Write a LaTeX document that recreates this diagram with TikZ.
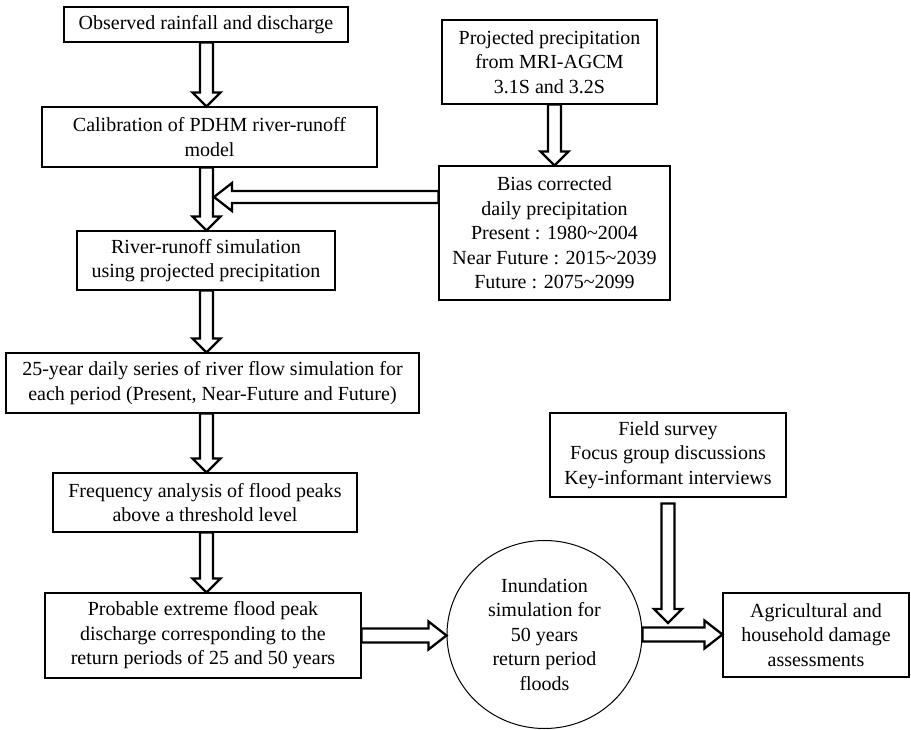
\documentclass[tikz,border=0pt]{standalone}
\usepackage{fontspec}
\setmainfont{Liberation Serif}
\usetikzlibrary{shapes.geometric,calc}
\tikzset{
  box/.style={draw, line width=1.1pt, inner sep=0pt, align=center, fill=white,
    font=\fontsize{20}{24.5}\selectfont},
  circbox/.style={draw, ellipse, line width=1pt, inner sep=0pt, align=center,
    font=\fontsize{20}{24.5}\selectfont},
  blk/.style={draw, line width=2.3pt, fill=white, line join=miter, miter limit=10}
}
\newcommand\blkdown[2]{%
  \draw[blk] let \p1=(#1), \p2=(#2) in
   (\x1-6.5pt,\y1) -- (\x1-6.5pt,\y2+14pt) -- (\x1-14pt,\y2+14pt) -- (\x1,\y2)
   -- (\x1+14pt,\y2+14pt) -- (\x1+6.5pt,\y2+14pt) -- (\x1+6.5pt,\y1) -- cycle;}
\newcommand\blkleft[2]{%
  \draw[blk] let \p1=(#1), \p2=(#2) in
   (\x1,\y1+6pt) -- (\x2+18pt,\y1+6pt) -- (\x2+18pt,\y1+14pt) -- (\x2,\y1)
   -- (\x2+18pt,\y1-14pt) -- (\x2+18pt,\y1-6pt) -- (\x1,\y1-6pt) -- cycle;}
\newcommand\blkright[2]{%
  \draw[blk] let \p1=(#1), \p2=(#2) in
   (\x1,\y1+7pt) -- (\x2-18pt,\y1+7pt) -- (\x2-18pt,\y1+14pt) -- (\x2,\y1)
   -- (\x2-18pt,\y1-14pt) -- (\x2-18pt,\y1-7pt) -- (\x1,\y1-7pt) -- cycle;}
\begin{document}
\begin{tikzpicture}[x=1pt,y=-1pt]
\useasboundingbox (0,0) rectangle (911,730);
% column of the main chain
\coordinate (col) at (206.5,0);
% nodes
\node[box, minimum width=284, minimum height=35] (b1) at (206,24.5) {Observed rainfall and discharge};
\node[box, minimum width=335, minimum height=60] (b2) at (209.5,137) {Calibration of PDHM river-runoff\\model};
\node[box, minimum width=258, minimum height=59] (b3) at (206,260.5) {River-runoff simulation\\using projected precipitation};
\node[box, minimum width=413, minimum height=60] (b4) at (212.5,383) {25-year daily series of river flow simulation for\\each period (Present, Near-Future and Future)};
\node[box, minimum width=304, minimum height=59] (b5) at (205,502.5) {Frequency analysis of flood peaks\\above a threshold level};
\node[box, minimum width=316, minimum height=85] (b6) at (203,635.5) {Probable extreme flood peak\\discharge corresponding to the\\return periods of 25 and 50 years};
\node[box, minimum width=215, minimum height=84] (proj) at (549.5,62) {Projected precipitation\\from MRI-AGCM\\3.1S and 3.2S};
\node[box, minimum width=231, minimum height=134] (bias) at (554.5,233) {Bias corrected\\daily precipitation\\Present : 1980\textasciitilde 2004\\Near Future : 2015\textasciitilde 2039\\Future : 2075\textasciitilde 2099};
\node[box, minimum width=236, minimum height=84] (field) at (668,455) {Field survey\\Focus group discussions\\Key-informant interviews};
\node[box, minimum width=186, minimum height=84] (agri) at (816,635) {Agricultural and\\household damage\\assessments};
\node[circbox, minimum width=195, minimum height=188] (circ) at (544.5,634.5) {Inundation\\simulation for\\50 years\\return period\\floods};
% helper coordinates
\coordinate (j) at (214,197);
\coordinate (fieldtip) at (668,623);
% block arrows
\blkdown{col |- b1.south}{col |- b2.north}
\blkdown{bias.north |- proj.south}{bias.north}
\blkdown{col |- b2.south}{col |- b3.north}
\blkleft{bias.west |- j}{j}
\blkdown{col |- b3.south}{col |- b4.north}
\blkdown{col |- b4.south}{col |- b5.north}
\blkdown{col |- b5.south}{col |- b6.north}
\blkright{b6.east}{b6.east -| circ.west}
\blkdown{$(field.south)+(0,6)$}{fieldtip}
\blkright{circ.east}{circ.east -| agri.west}
\end{tikzpicture}
\end{document}
